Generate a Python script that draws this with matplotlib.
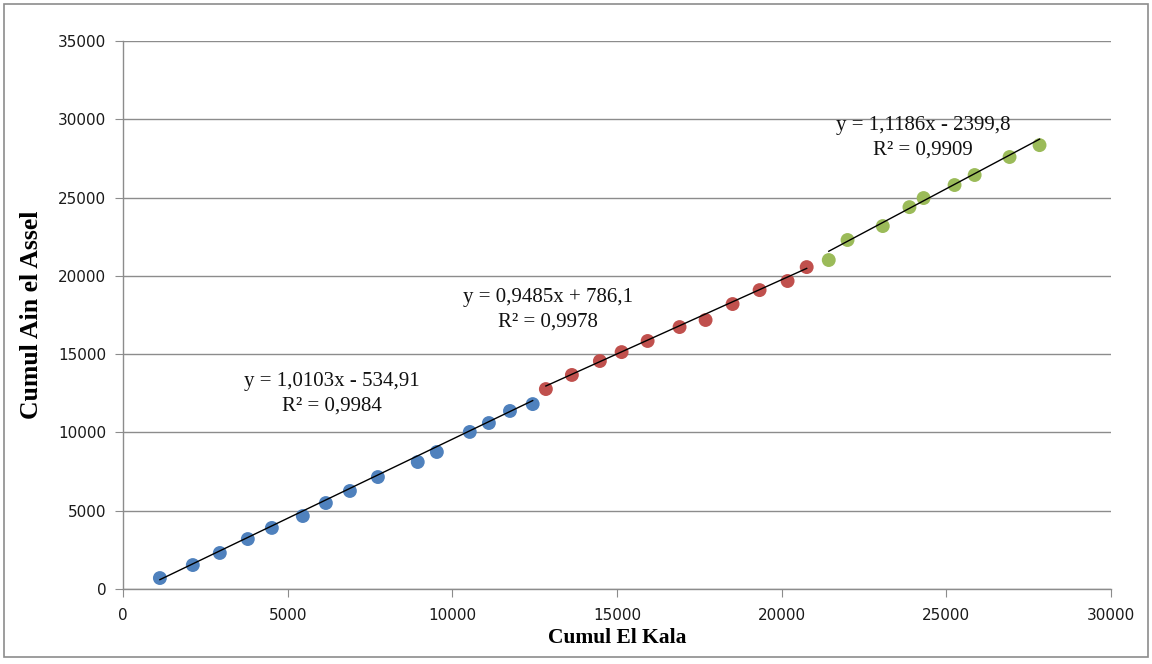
import matplotlib
matplotlib.use("Agg")
import matplotlib.pyplot as plt
from matplotlib.patches import Rectangle
import numpy as np

# Cumulative totals: El Kala (x) vs Ain el Assel (y), three periods
blue_x = [1120, 2120, 2940, 3790, 4520, 5460, 6160, 6890, 7740, 8950, 9530, 10530, 11110, 11750, 12440]
blue_y = [700, 1530, 2300, 3190, 3900, 4660, 5490, 6260, 7150, 8110, 8750, 10030, 10600, 11370, 11810]

red_x = [12840, 13630, 14480, 15140, 15930, 16900, 17690, 18510, 19330, 20180, 20760]
red_y = [12770, 13670, 14560, 15130, 15840, 16730, 17180, 18200, 19090, 19670, 20560]

green_x = [21430, 22000, 23070, 23880, 24310, 25250, 25860, 26920, 27830]
green_y = [21010, 22290, 23180, 24390, 24970, 25800, 26440, 27590, 28350]

# Linear trendline coefficients (slope, intercept, R²)
blue_fit = (1.0103, -534.91, 0.9984)
red_fit = (0.9485, 786.1, 0.9978)
green_fit = (1.1186, -2399.8, 0.9909)

x_ticks = [0, 5000, 10000, 15000, 20000, 25000, 30000]
y_ticks = [0, 5000, 10000, 15000, 20000, 25000, 30000, 35000]

fig = plt.figure(figsize=(11.52, 6.64), dpi=100)
fig.patch.set_facecolor("white")
fig.patches.append(Rectangle((4 / 1152, 7 / 664), 1144 / 1152, 653 / 664,
                             transform=fig.transFigure, fill=False,
                             edgecolor="#8c8c8c", linewidth=1.2))

ax = fig.add_axes([123 / 1152, 75 / 664, 988 / 1152, 548 / 664])
ax.set_xlim(0, 30000)
ax.set_ylim(0, 35000)
ax.set_xticks(x_ticks)
ax.set_yticks(y_ticks)
ax.set_xticklabels([str(t) for t in x_ticks])
ax.set_yticklabels([str(t) for t in y_ticks])

ax.grid(axis="y", color="#8c8c8c", linewidth=1.0)
ax.set_axisbelow(True)
for side in ("top", "right"):
    ax.spines[side].set_visible(False)
for side in ("left", "bottom"):
    ax.spines[side].set_color("#8c8c8c")
    ax.spines[side].set_linewidth(1.0)
ax.tick_params(axis="both", direction="out", length=6, color="#8c8c8c",
               labelsize=11, labelcolor="#1a1a1a")
ax.tick_params(axis="x", pad=8)
ax.tick_params(axis="y", pad=6)

series = [
    (blue_x, blue_y, blue_fit, "#4F81BD"),
    (red_x, red_y, red_fit, "#C0504D"),
    (green_x, green_y, green_fit, "#9BBB59"),
]
for xs, ys, fit, color in series:
    ax.scatter(xs, ys, s=100, color=color, edgecolors="none", zorder=3)
    xl = np.array([min(xs), max(xs)])
    ax.plot(xl, fit[0] * xl + fit[1], color="black", linewidth=1.0, zorder=4)

def fmt(v, nd):
    return f"{v:.{nd}f}".replace(".", ",")

def eq_text(fit, nd):
    slope, icpt, r2 = fit
    sign = "-" if icpt < 0 else "+"
    return f"y = {fmt(slope, 4)}x {sign} {fmt(abs(icpt), nd)}\nR² = {fmt(r2, 4)}"

serif = ["Liberation Serif", "DejaVu Serif"]
label_pos = [(6330, 12460, blue_fit, 2), (12900, 17830, red_fit, 1), (24300, 28800, green_fit, 1)]
for lx, ly, fit, nd in label_pos:
    ax.text(lx, ly, eq_text(fit, nd), ha="center", va="center", fontsize=15,
            family=serif, linespacing=1.38, color="#111111", zorder=5)

ax.set_xlabel("Cumul El Kala", family=serif, fontsize=15.5, fontweight="bold", labelpad=3)
ax.set_ylabel("Cumul Ain el Assel", family=serif, fontsize=18.5, fontweight="bold", labelpad=11)

fig.savefig("out.png", dpi=100, facecolor="white")
